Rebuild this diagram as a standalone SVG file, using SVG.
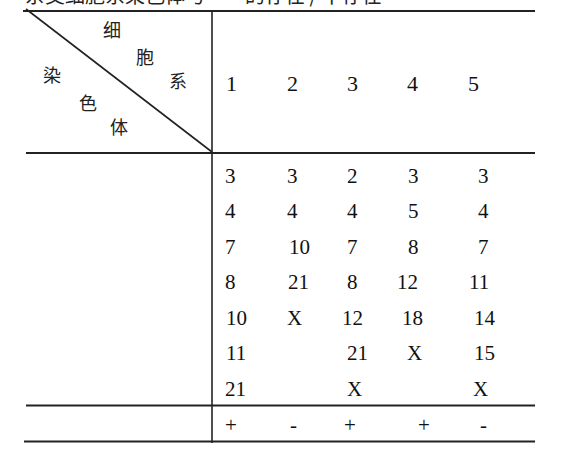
<svg xmlns="http://www.w3.org/2000/svg" width="574" height="462" viewBox="0 0 574 462">
<style>
.num{font-family:'Liberation Serif',serif;font-size:21px;fill:#111}
.hd{font-family:'Liberation Serif',serif;font-size:22px;fill:#111}
.cjk{font-family:'Noto Sans CJK SC','Noto Sans CJK JP',sans-serif;font-size:18px;fill:#222}
.cap{font-family:'Noto Sans CJK SC',sans-serif;font-size:20px;fill:#222}
.h{stroke:#222;stroke-width:2;fill:none}
.v{stroke:#222;stroke-width:1.6;fill:none}
</style>
<rect width="574" height="462" fill="#fff"/>
<g id="caption">
<text class="cap" x="25" y="3">杂交细胞系染色体与</text>
<text class="cap" x="245" y="3">的存在 / 不存在</text>
</g>
<g id="grid">
<line class="h" x1="23" y1="11" x2="535" y2="11"/>
<line class="v" x1="26" y1="9" x2="212" y2="152"/>
<line class="h" x1="26" y1="153" x2="535" y2="153"/>
<line class="v" x1="212" y1="10" x2="212" y2="443"/>
<line class="h" x1="26" y1="405.5" x2="535" y2="405.5"/>
<line class="h" x1="24" y1="441.5" x2="535" y2="441.5"/>
</g>
<g id="corner">
<text class="cjk" x="103" y="37">细</text>
<text class="cjk" x="136" y="64">胞</text>
<text class="cjk" x="169" y="88">系</text>
<text class="cjk" x="43" y="82">染</text>
<text class="cjk" x="79" y="110">色</text>
<text class="cjk" x="110" y="134">体</text>
</g>
<g id="header">
<text class="hd" x="226" y="91">1</text>
<text class="hd" x="287" y="91">2</text>
<text class="hd" x="347" y="91">3</text>
<text class="hd" x="407" y="91">4</text>
<text class="hd" x="468" y="91">5</text>
</g>
<g id="col1">
<text class="num" x="225" y="183">3</text>
<text class="num" x="225" y="218">4</text>
<text class="num" x="225" y="253.5">7</text>
<text class="num" x="225" y="289">8</text>
<text class="num" x="226" y="324.5">10</text>
<text class="num" x="226" y="360">11</text>
<text class="num" x="225" y="395.5">21</text>
</g>
<g id="col2">
<text class="num" x="287" y="183">3</text>
<text class="num" x="287" y="218">4</text>
<text class="num" x="289" y="253.5">10</text>
<text class="num" x="288" y="289">21</text>
<text class="num" x="287" y="324.5">X</text>
</g>
<g id="col3">
<text class="num" x="347" y="183">2</text>
<text class="num" x="347" y="218">4</text>
<text class="num" x="347" y="253.5">7</text>
<text class="num" x="347" y="289">8</text>
<text class="num" x="342" y="324.5">12</text>
<text class="num" x="347" y="360">21</text>
<text class="num" x="347" y="395.5">X</text>
</g>
<g id="col4">
<text class="num" x="408" y="183">3</text>
<text class="num" x="408" y="218">5</text>
<text class="num" x="408" y="253.5">8</text>
<text class="num" x="397" y="289">12</text>
<text class="num" x="402" y="324.5">18</text>
<text class="num" x="407" y="360">X</text>
</g>
<g id="col5">
<text class="num" x="478" y="183">3</text>
<text class="num" x="478" y="218">4</text>
<text class="num" x="478" y="253.5">7</text>
<text class="num" x="469" y="289">11</text>
<text class="num" x="474" y="324.5">14</text>
<text class="num" x="474" y="360">15</text>
<text class="num" x="473" y="395.5">X</text>
</g>
<g id="result">
<text class="num" x="225" y="432">+</text>
<text class="num" x="290" y="432">-</text>
<text class="num" x="344" y="432">+</text>
<text class="num" x="418" y="432">+</text>
<text class="num" x="480" y="432">-</text>
</g>
</svg>
